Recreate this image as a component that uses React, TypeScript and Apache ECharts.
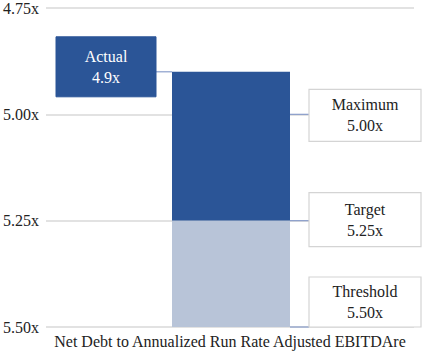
import React, { useEffect, useRef } from "react";
import * as echarts from "echarts";

const categories = ["Net Debt to Annualized Run Rate Adjusted EBITDAre"];
const yTicks = [4.75, 5.0, 5.25, 5.5];
const actualValue = [4.9];
const maximumValue = [5.0];
const targetValue = [5.25];
const thresholdValue = [5.5];
const actualLabel = ["Actual", "4.9x"];
const maximumLabel = ["Maximum", "5.00x"];
const targetLabel = ["Target", "5.25x"];
const thresholdLabel = ["Threshold", "5.50x"];

const DARK = "#2B5597";
const LIGHT = "#B8C4D8";
const CONNECT = "#8A9ECB";
const FONT = "Liberation Serif";

export default function App() {
  const ref = useRef<HTMLDivElement>(null);
  useEffect(() => {
    if (!ref.current) return;
    const chart = echarts.init(ref.current, null, { renderer: "svg" });
    const step = yTicks[1] - yTicks[0];
    const yMin = yTicks[0];
    const yMax = yTicks[yTicks.length - 1];
    chart.setOption({
      animation: false,
      grid: [
        { left: 43, right: 8, top: 8, bottom: 35 },
        { left: 45.5, right: 5.5, top: 8, bottom: 35 },
      ],
      xAxis: [
        {
          type: "category",
          gridIndex: 0,
          data: [""],
          name: categories[0],
          nameLocation: "middle",
          nameGap: 6,
          nameTextStyle: { fontFamily: FONT, fontSize: 16, color: "#222", verticalAlign: "top" },
          axisLine: { show: false },
          axisTick: { show: false },
          axisLabel: { show: false },
        },
        {
          type: "category",
          gridIndex: 1,
          data: [""],
          show: false,
        },
      ],
      yAxis: [
        {
          type: "value",
          gridIndex: 0,
          inverse: true,
          min: yMin,
          max: yMax,
          interval: step,
          axisLine: { show: false },
          axisTick: { show: false },
          axisLabel: {
            fontFamily: FONT,
            fontSize: 16,
            color: "#222",
            margin: 7,
            formatter: (v: number) => v.toFixed(2) + "x",
          },
          splitLine: { lineStyle: { color: "#D9D9D9", width: 1.5 } },
        },
        {
          type: "value",
          gridIndex: 1,
          inverse: true,
          min: yMin,
          max: yMax,
          interval: step,
          show: false,
        },
      ],
      series: [
        {
          type: "bar",
          stack: "s",
          xAxisIndex: 1,
          yAxisIndex: 1,
          barWidth: 118,
          data: actualValue,
          itemStyle: { color: "transparent" },
          silent: true,
        },
        {
          type: "bar",
          stack: "s",
          xAxisIndex: 1,
          yAxisIndex: 1,
          barWidth: 118,
          data: targetValue.map((t, i) => +(t - actualValue[i]).toFixed(4)),
          itemStyle: { color: DARK },
        },
        {
          type: "bar",
          stack: "s",
          xAxisIndex: 1,
          yAxisIndex: 1,
          barWidth: 118,
          data: thresholdValue.map((t, i) => +(t - targetValue[i]).toFixed(4)),
          itemStyle: { color: LIGHT },
        },
      ],
    });

    const py = (v: number) => chart.convertToPixel({ yAxisIndex: 1 }, v) as number;
    const cx = chart.convertToPixel({ xAxisIndex: 1 }, "") as number;
    const barL = cx - 59;
    const barR = cx + 59;

    const box = (
      x: number,
      y: number,
      w: number,
      h: number,
      lines: string[],
      filled: boolean
    ) => [
      {
        type: "rect",
        shape: { x, y, width: w, height: h },
        style: filled
          ? { fill: DARK, stroke: DARK }
          : { fill: "#fff", stroke: "#D4D4D4", lineWidth: 1.2 },
      },
      {
        type: "text",
        x: x + w / 2,
        y: y + h / 2,
        style: {
          text: lines.join("\n"),
          fontFamily: FONT,
          fontSize: 16,
          lineHeight: 21,
          fill: filled ? "#fff" : "#222",
          align: "center",
          verticalAlign: "middle",
        },
      },
    ];
    const conn = (x1: number, x2: number, y: number) => ({
      type: "line",
      shape: { x1, y1: y, x2, y2: y },
      style: { stroke: CONNECT, lineWidth: 1.2 },
    });

    const yA = py(actualValue[0]);
    const yM = py(maximumValue[0]);
    const yT = py(targetValue[0]);
    const yH = py(thresholdValue[0]);
    const rx = 309;
    const rw = 112;

    chart.setOption({
      graphic: [
        conn(156, barL, yA),
        ...box(56, yA - 35, 100, 60, actualLabel, true),
        conn(barR, rx, yM),
        ...box(rx, yM - 25, rw, 52, maximumLabel, false),
        conn(barR, rx, yT),
        ...box(rx, yT - 28, rw, 54, targetLabel, false),
        conn(barR, rx, yH),
        ...box(rx, yH - 50, rw, 50, thresholdLabel, false),
      ],
    });

    return () => chart.dispose();
  }, []);
  return (
    <div
      ref={ref}
      style={{ position: "fixed", left: 0, top: 0, width: 422, height: 362, background: "#fff" }}
    />
  );
}
